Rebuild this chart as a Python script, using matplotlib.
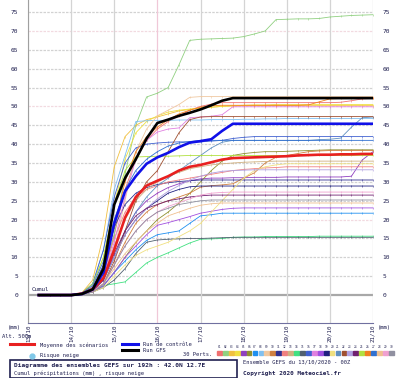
import matplotlib
matplotlib.use('Agg')
import matplotlib.pyplot as plt
from matplotlib.lines import Line2D
from matplotlib.patches import Rectangle

# forecast steps (hours after 13/10/2020 00Z)
hours = list(range(6, 193, 6))
day_ticks = [0, 24, 48, 72, 96, 120, 144, 168, 192]
day_labels = ['13/10', '14/10', '15/10', '16/10', '17/10', '18/10', '19/10', '20/10', '21/10']
y_ticks = [0, 5, 10, 15, 20, 25, 30, 35, 40, 45, 50, 55, 60, 65, 70, 75]

mean_vals = [0, 0, 0, 0, 0.4, 1.5, 4.5, 12, 20.5, 26, 29, 30.3, 31.5, 33, 34, 34.5,
             35.2, 35.9, 36.3, 36.4, 36.5, 36.6, 36.7, 36.8, 37, 37.1, 37.2, 37.2, 37.3, 37.3, 37.4, 37.4]
control_vals = [0, 0, 0, 0, 0.3, 1.5, 6, 19, 27.5, 31.5, 34.8, 36.5, 37.7, 39.2, 40.4, 40.8,
                41.3, 43.5, 45.4, 45.4, 45.4, 45.4, 45.4, 45.4, 45.4, 45.4, 45.4, 45.4, 45.4, 45.4, 45.4, 45.4]
gfs_vals = [0, 0, 0, 0, 0.3, 1.5, 7, 24, 31, 36, 41.5, 45.6, 46.5, 47.5, 48.3, 49.2,
            50.3, 51.5, 52.2, 52.2, 52.2, 52.2, 52.2, 52.2, 52.2, 52.2, 52.2, 52.2, 52.2, 52.2, 52.2, 52.2]

p01 = [0, 0, 0, 0, 0.4, 2, 6, 16, 28, 36, 41, 44, 46, 47.5, 49, 50,
       50.6, 51, 51, 51, 51, 51, 51, 51, 51, 51, 51, 51, 51.1, 51.5, 52, 52.1]
p02 = [0, 0, 0, 0, 0.3, 1.5, 5, 16, 32, 45, 52.5, 53.5, 55, 61, 67.5, 67.8,
       67.9, 68, 68.1, 68.5, 69.2, 70, 73, 73.1, 73.2, 73.2, 73.3, 73.7, 73.9, 74.1, 74.2, 74.3]
p03 = [0, 0, 0, 0, 0.6, 4, 16, 34, 42, 45, 46.5, 47.2, 48, 48.8, 49.2, 49.5,
       49.8, 50, 50.1, 50.2, 50.2, 50.2, 50.2, 50.2, 50.2, 50.2, 50.2, 50.2, 50.2, 50.2, 50.2, 50.2]
p04 = [0, 0, 0, 0, 0.5, 3, 10, 24, 36, 43, 46, 47.5, 48.5, 49, 49.3, 49.5,
       49.8, 50, 50.2, 50.3, 50.4, 50.4, 50.5, 50.5, 50.5, 50.5, 50.5, 50.5, 50.5, 50.5, 50.5, 50.5]
p05 = [0, 0, 0, 0, 0.2, 1, 4, 10, 17, 22, 25, 27, 28.5, 29.5, 30.3, 30.8,
       31, 31, 31.1, 31.1, 31.2, 31.2, 31.2, 31.3, 31.3, 31.3, 31.3, 31.3, 31.3, 31.5, 35.8, 38]
p06 = [0, 0, 0, 0, 0.2, 0.8, 2.5, 6, 10, 14, 17, 20, 22, 24.4, 27, 30,
       33, 35.5, 37, 37.5, 37.8, 38, 38, 38.1, 38.2, 38.3, 38.4, 38.5, 38.5, 38.5, 38.5, 38.5]
p07 = [0, 0, 0, 0, 0.2, 0.8, 2.5, 6, 9, 12, 14.5, 16, 16.5, 17, 19, 21,
       21.3, 21.7, 21.7, 21.7, 21.7, 21.7, 21.7, 21.7, 21.7, 21.7, 21.7, 21.7, 21.7, 21.7, 21.7, 21.7]
p08 = [0, 0, 0, 0, 0.5, 3, 12, 28, 37, 46, 46.2, 46.3, 46.3, 46.4, 46.4, 46.4,
       46.5, 46.5, 46.5, 46.6, 46.6, 46.7, 46.7, 46.8, 46.8, 46.8, 46.8, 46.8, 46.8, 46.8, 46.8, 46.8]
p09 = [0, 0, 0, 0, 0.3, 1, 4, 12, 25, 38, 44, 47.5, 49, 50.5, 52.4, 52.6,
       52.6, 52.6, 52.6, 52.6, 52.6, 52.6, 52.6, 52.6, 52.6, 52.6, 52.6, 52.6, 52.6, 52.6, 52.6, 52.6]
p10 = [0, 0, 0, 0, 0.3, 1, 3, 8, 14, 19, 22, 24, 25, 26, 27, 28.6,
       29, 29.2, 29.5, 31, 32.4, 35, 36.5, 37, 37.5, 38, 38.2, 38.3, 38.3, 38.3, 38.3, 38.3]
p11 = [0, 0, 0, 0, 0.4, 2, 8, 18, 24, 27, 28.5, 29.3, 29.8, 30.1, 30.3, 30.5,
       30.5, 30.5, 30.5, 30.5, 30.5, 30.5, 30.5, 30.5, 30.5, 30.5, 30.5, 30.5, 30.5, 30.5, 30.5, 30.5]
p12 = [0, 0, 0, 0, 0.4, 2, 6, 15, 22, 26, 28, 29, 30, 30.5, 31, 31.5,
       32, 32.5, 33, 33.3, 33.5, 33.7, 33.8, 34, 34, 34, 34, 34, 34, 34, 34, 34]
p13 = [0, 0, 0, 0, 0.3, 1.5, 5, 13, 20, 25, 28, 30, 31.5, 32.5, 33.5, 34,
       34.5, 34.8, 35, 35.2, 35.3, 35.4, 35.5, 35.5, 35.5, 35.5, 35.5, 35.5, 35.5, 35.5, 35.5, 35.5]
p14 = [0, 0, 0, 0, 0.3, 1, 2.5, 3, 3.5, 6, 8.5, 10, 11.2, 12.5, 13.8, 14.8,
       14.9, 15, 15.3, 15.4, 15.4, 15.5, 15.5, 15.5, 15.5, 15.5, 15.6, 15.6, 15.6, 15.6, 15.6, 15.6]
p15 = [0, 0, 0, 0, 0.2, 0.8, 2, 4, 7, 11, 14, 14.6, 14.8, 14.9, 15, 15,
       15.1, 15.2, 15.3, 15.3, 15.3, 15.3, 15.3, 15.3, 15.3, 15.3, 15.3, 15.3, 15.3, 15.3, 15.3, 15.3]
p16 = [0, 0, 0, 0, 0.5, 3, 12, 26, 35, 39, 40, 40.3, 40.5, 40.6, 40.6, 40.6,
       40.8, 41, 41.5, 41.8, 42, 42, 42, 42, 42, 42, 42, 42, 42, 42, 42, 42]
p17 = [0, 0, 0, 0, 0.3, 1.5, 5, 14, 26, 36, 41, 43.2, 44, 44.3, 47, 47.2,
       47.4, 47.8, 49.9, 49.9, 49.9, 49.9, 49.9, 49.9, 49.9, 49.9, 49.9, 49.9, 49.9, 49.9, 49.9, 49.9]
p18 = [0, 0, 0, 0, 0.2, 0.8, 2.5, 6, 10, 13, 16, 18.5, 19.2, 20, 20.8, 21.7,
       22.2, 22.7, 23, 23.1, 23.1, 23.1, 23.1, 23.1, 23.1, 23.1, 23.1, 23.1, 23.1, 23.1, 23.1, 23.1]
p19 = [0, 0, 0, 0, 0.3, 1, 4, 10, 16, 20, 23, 25, 27, 28, 28.7, 28.9,
       28.9, 28.9, 28.9, 28.9, 28.9, 28.9, 28.9, 28.9, 28.9, 28.9, 28.9, 28.9, 28.9, 28.9, 28.9, 28.9]
p20 = [0, 0, 0, 0, 0.2, 0.8, 2, 5, 8, 10.5, 12, 13, 14, 15.5, 17, 19,
       22, 25, 28, 31, 33, 34, 34.5, 34.8, 34.8, 34.8, 34.8, 34.8, 34.8, 34.8, 34.8, 34.8]
p21 = [0, 0, 0, 0, 0.2, 1, 4, 10, 17, 22, 26, 29, 31, 33, 35, 37,
       39, 40.5, 41, 41, 41, 41, 41, 41, 41, 41, 41.2, 41.3, 41.6, 44.5, 47, 47.2]
p22 = [0, 0, 0, 0, 0.2, 1, 3, 9, 17, 25, 30, 33, 38, 43, 46.5, 47.2,
       47.3, 47.3, 47.3, 47.3, 47.3, 47.3, 47.3, 47.3, 47.3, 47.3, 47.3, 47.3, 47.3, 47.3, 47.3, 47.3]
p23 = [0, 0, 0, 0, 0.3, 1.2, 4, 10, 16, 20, 23, 25.5, 27.5, 29, 30.5, 31.5,
       32.3, 32.8, 33, 33.1, 33.2, 33.2, 33.2, 33.2, 33.2, 33.2, 33.2, 33.2, 33.2, 33.2, 33.2, 33.2]
p24 = [0, 0, 0, 0, 0.3, 1.2, 4, 11, 17, 21, 23, 24, 25, 25.5, 26, 26.3,
       26.5, 26.5, 26.5, 26.5, 26.5, 26.5, 26.5, 26.5, 26.5, 26.5, 26.5, 26.5, 26.5, 26.5, 26.5, 26.5]
p25 = [0, 0, 0, 0, 0.5, 3, 10, 24, 33, 36.6, 36.7, 36.8, 36.8, 36.9, 37, 37,
       37, 37, 37, 37, 37, 37, 37, 37, 37, 37, 37, 37, 37, 37, 37, 37]
p26 = [0, 0, 0, 0, 0.5, 2, 7, 18, 30, 38, 42, 44.5, 46.5, 48, 49, 49.8,
       50.2, 50.3, 50.3, 50.3, 50.3, 50.3, 50.3, 50.3, 50.3, 50.4, 51.2, 52, 52.1, 52.2, 52.2, 52.2]
p27 = [0, 0, 0, 0, 0.5, 2.5, 9, 20, 28, 33, 36, 38, 39.5, 40.3, 40.7, 41,
       41, 41, 41, 41, 41, 41, 41, 41, 41, 41, 41, 41, 41, 41, 41, 41]
p28 = [0, 0, 0, 0, 0.2, 1, 3, 7, 11, 14, 17, 19, 21, 22, 23, 23.8,
       24.2, 24.4, 24.4, 24.4, 24.4, 24.4, 24.4, 24.4, 24.4, 24.4, 24.4, 24.4, 24.4, 24.4, 24.4, 24.4]
p29 = [0, 0, 0, 0, 0.2, 1, 3, 8, 13, 17, 20, 22, 23.5, 24.5, 25.5, 26.5,
       27, 27.2, 27.3, 27.3, 27.3, 27.3, 27.3, 27.3, 27.3, 27.3, 27.3, 27.3, 27.3, 27.3, 27.3, 27.3]
p30 = [0, 0, 0, 0, 0.2, 0.8, 3, 8, 13, 17, 20, 22, 23, 24, 24.5, 25,
       25.2, 25.2, 25.2, 25.2, 25.2, 25.2, 25.2, 25.2, 25.2, 25.2, 25.2, 25.2, 25.2, 25.2, 25.2, 25.2]

perts = [p01, p02, p03, p04, p05, p06, p07, p08, p09, p10,
         p11, p12, p13, p14, p15, p16, p17, p18, p19, p20,
         p21, p22, p23, p24, p25, p26, p27, p28, p29, p30]
pert_colors = ['#f07070', '#90d080', '#f0c040', '#f0e040', '#9040c0', '#909030', '#2090f0', '#80c0f0',
               '#f0c8a0', '#d08040', '#303090', '#f08080', '#d0b080', '#40e080', '#506070', '#4060d0',
               '#e080e0', '#a050e0', '#202080', '#f0e080', '#6090c0', '#a05030', '#b0a0e0', '#702070',
               '#b0e040', '#f08020', '#3070d0', '#f0c090', '#f0a0d0', '#9090a0']

TXT = '#202050'


def fx(px):
    return px / 400


def fy(py):
    return 1 - py / 378


fig = plt.figure(figsize=(4, 3.78), dpi=100)
fig.patch.set_facecolor('white')
ax = fig.add_axes([fx(28), fy(323), 345 / 400, 323 / 378])
ax.set_xlim(0, 192)
ax.set_ylim(-7.4, 78.2)

# grid
for v in y_ticks:
    if v == 0:
        ax.axhline(v, color='#a8a8a8', lw=1.6, zorder=1)
    elif v in (50, 70, 20):
        ax.axhline(v, color='#f2dae0', lw=0.9, ls=(0, (2, 1)), zorder=1)
    else:
        ax.axhline(v, color='#d2d2d2', lw=0.9, ls=(0, (2, 1)), zorder=1)
for i, d in enumerate(day_ticks):
    c = '#f0c8d8' if i == 3 else '#d4d4d4'
    ax.axvline(d, color=c, lw=0.9, zorder=1)

# members
for vals, c in zip(perts, pert_colors):
    ax.plot(hours, vals, color=c, lw=0.6, marker='|', ms=1.8, mew=0.4, zorder=2)
ax.plot(hours, mean_vals, color='#e82020', lw=1.9, zorder=3)
ax.plot(hours, control_vals, color='#1010e8', lw=1.9, zorder=3)
ax.plot(hours, gfs_vals, color='black', lw=1.9, zorder=3)

for s in ['top', 'right']:
    ax.spines[s].set_visible(False)
ax.spines['left'].set_color('#a0a0a0')
ax.spines['bottom'].set_color('#7070a0')

ax.set_yticks(y_ticks)
ax.set_yticklabels([str(v) for v in y_ticks], fontsize=4.5, color=TXT, family='DejaVu Sans Mono')
ax.tick_params(axis='y', length=0, pad=7, labelright=True)
ax.set_xticks(day_ticks)
ax.set_xticklabels(day_labels, rotation=90, fontsize=4.2, color=TXT, family='DejaVu Sans Mono')
ax.tick_params(axis='x', length=0, pad=1.2)

ax.text(2, 1.2, 'Cumul', fontsize=4.2, color=TXT, family='DejaVu Sans Mono')

mono = dict(family='DejaVu Sans Mono', color=TXT, va='center', ha='left')
fig.text(fx(8), fy(327), '(mm)', fontsize=4, **mono)
fig.text(fx(378), fy(327), '(mm)', fontsize=4, **mono)
fig.text(fx(2), fy(336), 'Alt. 500m', fontsize=4, **mono)

fig.add_artist(Line2D([fx(10), fx(34)], [fy(344), fy(344)], color='#e82020', lw=2.2))
fig.text(fx(40), fy(345), 'Moyenne des scénarios', fontsize=3.9, **mono)
fig.add_artist(Line2D([fx(122), fx(138)], [fy(344), fy(344)], color='#1010e8', lw=2.2))
fig.text(fx(143), fy(344.5), 'Run de contrôle', fontsize=3.9, **mono)
fig.add_artist(Line2D([fx(122), fx(138)], [fy(350), fy(350)], color='black', lw=2.2))
fig.text(fx(143), fy(350), 'Run GFS', fontsize=3.9, **mono)
fig.text(fx(183), fy(354), '30 Perts.', fontsize=3.9, **mono)
fig.add_artist(Line2D([fx(32)], [fy(355.5)], marker='o', ms=3.5, color='#80c8e8', ls=''))
fig.text(fx(40), fy(355.5), 'Risque neige', fontsize=3.9, **mono)

# perturbation colour key
for i, c in enumerate(pert_colors):
    x0 = 217 + i * 5.93
    fig.text(fx(x0 + 2.4), fy(347.5), '%02d' % (i + 1), fontsize=2.2, family='DejaVu Sans Mono',
             color=TXT, ha='center', va='center')
    fig.add_artist(Rectangle((fx(x0), fy(355)), 4.8 / 400, 4 / 378, color=c,
                             transform=fig.transFigure))

fig.add_artist(Rectangle((fx(10), fy(377.5)), 227 / 400, 17.5 / 378, fill=False,
                         ec=TXT, lw=1.2, transform=fig.transFigure))
fig.text(fx(14), fy(365), 'Diagramme des ensembles GEFS sur 192h : 42.0N 12.7E',
         fontsize=4.4, fontweight='bold', **mono)
fig.text(fx(14), fy(373), 'Cumul précipitations (mm) , risque neige', fontsize=3.9, **mono)
fig.text(fx(243), fy(362), 'Ensemble GEFS du 13/10/2020 - 00Z', fontsize=3.9, **mono)
fig.text(fx(243), fy(373), 'Copyright 2020 Meteociel.fr', fontsize=4.3, fontweight='bold', **mono)

fig.savefig('out.png', dpi=100)
